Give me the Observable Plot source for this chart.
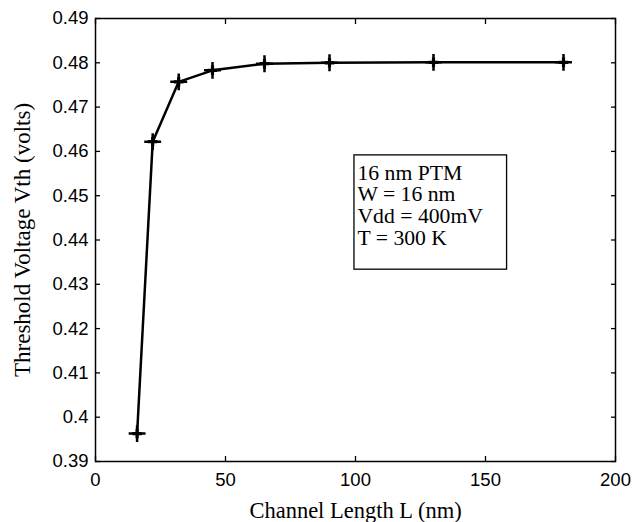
<!DOCTYPE html>
<html><head><meta charset="utf-8">
<script src="https://cdn.jsdelivr.net/npm/d3@7"></script>
<script src="https://cdn.jsdelivr.net/npm/@observablehq/plot@0.6"></script>
<style>body{margin:0;background:#fff}</style></head>
<body><div id="chart"></div>
<script>
const lengths = [16, 22, 32, 45, 65, 90, 130, 180];
const vth = [0.3963, 0.4622, 0.4757, 0.4783, 0.4798, 0.4800, 0.4801, 0.4801];
const xTicks = [0, 50, 100, 150, 200];
const yTicks = [0.39, 0.40, 0.41, 0.42, 0.43, 0.44, 0.45, 0.46, 0.47, 0.48, 0.49];
const xLabel = "Channel Length L (nm)";
const yLabel = "Threshold Voltage Vth (volts)";
const noteLines = ["16 nm PTM", "W = 16 nm", "Vdd = 400mV", "T = 300 K"];
const noteBox = {x1: 99.6, x2: 158.3, y1: 0.4333, y2: 0.4591};

const data = lengths.map((L, i) => ({L, V: vth[i]}));
const sans = "Liberation Sans, Arial, sans-serif";
const serif = "Liberation Serif, Times New Roman, serif";
const yFmt = d => String(+d.toFixed(2));

const chart = Plot.plot({
  width: 633, height: 522,
  marginLeft: 95, marginRight: 18, marginTop: 18, marginBottom: 61,
  style: {background: "#fff", color: "#000"},
  x: {domain: [0, 200]},
  y: {domain: [0.39, 0.49]},
  marks: [
    Plot.frame({stroke: "#000", strokeWidth: 1.5}),
    Plot.axisX({ticks: xTicks, tickSize: -5, tickPadding: 16, tickFormat: d => String(d), fontSize: 18.5, fontFamily: sans, label: null, strokeWidth: 1.3}),
    Plot.axisX({anchor: "top", ticks: xTicks, tickSize: -5, tickFormat: () => "", label: null, strokeWidth: 1.3}),
    Plot.axisY({ticks: yTicks, tickSize: -5, tickPadding: 12, tickFormat: yFmt, fontSize: 18.5, fontFamily: sans, label: null, strokeWidth: 1.3}),
    Plot.axisY({anchor: "right", ticks: yTicks, tickSize: -5, tickFormat: () => "", label: null, strokeWidth: 1.3}),
    Plot.text([xLabel], {frameAnchor: "bottom", dy: 49, text: d => d, fontSize: 22.5, fontFamily: serif, lineAnchor: "middle", textAnchor: "middle"}),
    Plot.text([yLabel], {frameAnchor: "left", dx: -73, rotate: -90, text: d => d, fontSize: 23, fontFamily: serif, lineAnchor: "middle", textAnchor: "middle"}),
    Plot.line(data, {x: "L", y: "V", stroke: "#000", strokeWidth: 2.5}),
    Plot.dot(data, {x: "L", y: "V", symbol: "cross", r: 4, fill: "#000"}),
    Plot.dot(data, {x: "L", y: "V", symbol: "plus", r: 5.5, stroke: "#000", strokeWidth: 2.5}),
    Plot.rect([noteBox], {x1: "x1", x2: "x2", y1: "y1", y2: "y2", fill: "#fff", stroke: "#000", strokeWidth: 1.3}),
    Plot.text([noteLines.join("\n")], {x: noteBox.x1, y: noteBox.y2, dx: 3, dy: 9, text: d => d, textAnchor: "start", lineAnchor: "top", lineHeight: 1, fontSize: 21.7, fontFamily: serif})
  ]
});
document.getElementById("chart").append(chart);
</script></body></html>
